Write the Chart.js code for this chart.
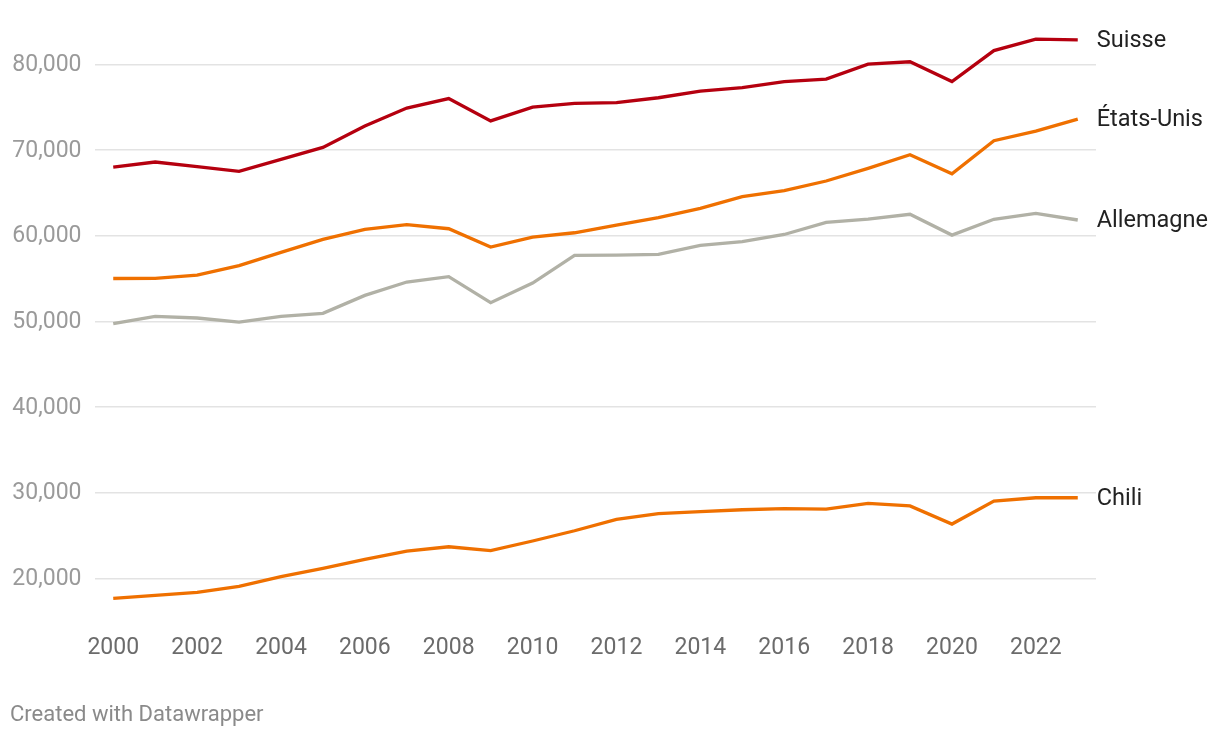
<!DOCTYPE html>
<html>
<head>
<meta charset="utf-8">
<script src="https://cdn.jsdelivr.net/npm/chart.js@4/dist/chart.umd.min.js"></script>
<style>
  html, body { margin: 0; padding: 0; background: #fff; }
  #wrap { position: relative; width: 1220px; height: 738px; }
  #footer { position: absolute; left: 10px; top: 700px; font-family: Roboto, sans-serif; font-size: 22px; color: #8a8a8a; line-height: 28px; }
</style>
</head>
<body>
<div id="wrap">
  <canvas id="c" width="1220" height="738"></canvas>
  <div id="footer">Created with Datawrapper</div>
</div>
<script>
const years = [2000,2001,2002,2003,2004,2005,2006,2007,2008,2009,2010,2011,2012,2013,2014,2015,2016,2017,2018,2019,2020,2021,2022,2023];
const suisse = [68000,68600,68050,67500,68900,70300,72800,74900,76000,73400,75000,75450,75520,76100,76880,77270,77970,78280,80030,80300,78000,81600,82950,82850];
const etatsUnis = [55000,55020,55400,56500,58050,59570,60740,61280,60810,58670,59840,60340,61240,62100,63190,64550,65250,66380,67860,69450,67230,71080,72210,73610];
const allemagne = [49720,50580,50390,49920,50580,50930,53030,54590,55210,52180,54470,57700,57740,57820,58870,59300,60140,61560,61940,62500,60070,61910,62610,61830];
const chili = [17670,18020,18370,19070,20190,21170,22220,23190,23690,23230,24360,25560,26890,27550,27780,28010,28130,28090,28760,28450,26340,29030,29410,29410];
const seriesNames = ["Suisse","États-Unis","Allemagne","Chili"];
const seriesColors = ["#b5000f","#ef7000","#b1b1a6","#ef7000"];
const yTicks = [20000,30000,40000,50000,60000,70000,80000];
const xTicks = [2000,2002,2004,2006,2008,2010,2012,2014,2016,2018,2020,2022];

const seriesValues = [suisse, etatsUnis, allemagne, chili];
const datasets = seriesValues.map((vals, i) => ({
  label: seriesNames[i],
  data: vals.map((v, j) => ({x: years[j], y: v})),
  borderColor: seriesColors[i],
  backgroundColor: seriesColors[i],
  borderWidth: 3.3,
  pointRadius: 0,
  tension: 0,
  fill: false
}));

const customLabels = {
  id: 'customLabels',
  afterDraw(chart) {
    const ctx = chart.ctx;
    const xs = chart.scales.x, ys = chart.scales.y;
    ctx.save();
    ctx.textBaseline = 'middle';
    ctx.font = '23px Roboto, sans-serif';
    ctx.fillStyle = '#9a9a9a';
    ctx.textAlign = 'right';
    yTicks.forEach(v => {
      ctx.fillText(v.toLocaleString('en-US'), 81.5, ys.getPixelForValue(v) + 1);
    });
    ctx.fillStyle = '#6b6b6b';
    ctx.textAlign = 'center';
    xTicks.forEach(v => {
      ctx.fillText(String(v), xs.getPixelForValue(v), 648);
    });
    ctx.font = '23.5px Roboto, sans-serif';
    ctx.fillStyle = '#222';
    ctx.textAlign = 'left';
    chart.data.datasets.forEach((ds, i) => {
      const meta = chart.getDatasetMeta(i);
      const p = meta.data[meta.data.length - 1];
      ctx.fillText(ds.label, p.x + 19, p.y + 1);
    });
    ctx.restore();
  }
};

new Chart(document.getElementById('c'), {
  type: 'line',
  data: { datasets },
  plugins: [customLabels],
  options: {
    responsive: false,
    animation: false,
    layout: { padding: { top: 21.5, right: 124, bottom: 59.8, left: 0 } },
    plugins: { legend: { display: false }, tooltip: { enabled: false } },
    scales: {
      x: {
        type: 'linear',
        min: 1999.565,
        max: 2023.435,
        afterBuildTicks(axis) { axis.ticks = xTicks.map(v => ({value: v})); },
        afterFit(axis) { axis.height = 57; },
        grid: { display: false, drawTicks: false },
        border: { display: false },
        ticks: { display: false }
      },
      y: {
        min: 15000,
        max: 85000,
        afterBuildTicks(axis) { axis.ticks = yTicks.map(v => ({value: v})); },
        afterFit(axis) { axis.width = 95; },
        grid: { color: '#e3e3e3', lineWidth: 1.5, drawTicks: false },
        border: { display: false },
        ticks: { display: false }
      }
    }
  }
});
</script>
</body>
</html>
